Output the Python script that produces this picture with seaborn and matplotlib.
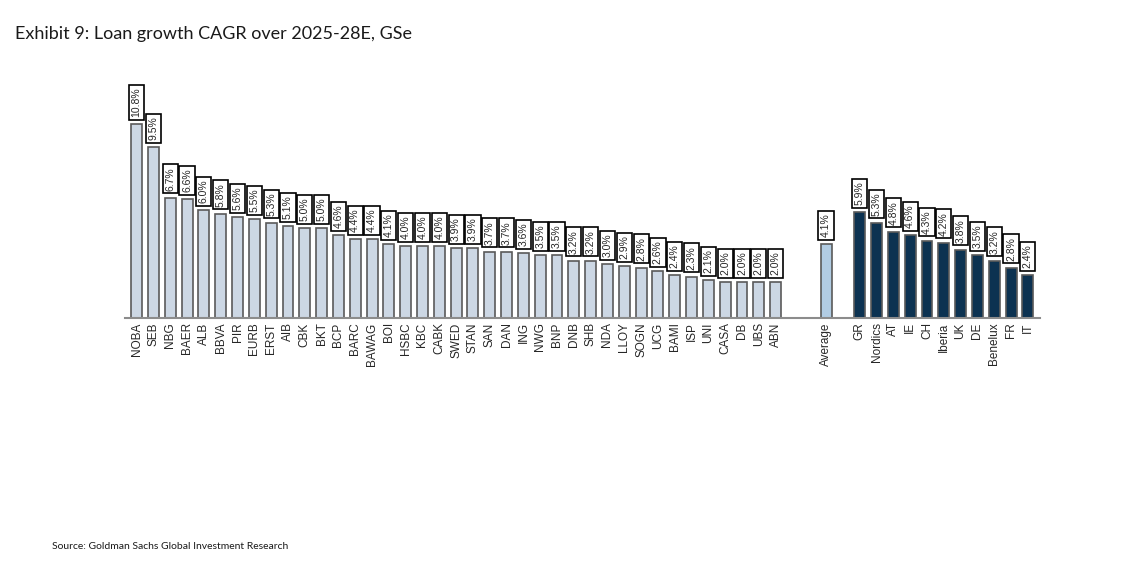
import pandas as pd
import matplotlib.pyplot as plt
import seaborn as sns

banks = ["NOBA", "SEB", "NBG", "BAER", "ALB", "BBVA", "PIR", "EURB", "ERST", "AIB",
         "CBK", "BKT", "BCP", "BARC", "BAWAG", "BOI", "HSBC", "KBC", "CABK", "SWED",
         "STAN", "SAN", "DAN", "ING", "NWG", "BNP", "DNB", "SHB", "NDA", "LLOY",
         "SOGN", "UCG", "BAMI", "ISP", "UNI", "CASA", "DB", "UBS", "ABN"]
bank_growth = [10.8, 9.5, 6.7, 6.6, 6.0, 5.8, 5.6, 5.5, 5.3, 5.1,
               5.0, 5.0, 4.6, 4.4, 4.4, 4.1, 4.0, 4.0, 4.0, 3.9,
               3.9, 3.7, 3.7, 3.6, 3.5, 3.5, 3.2, 3.2, 3.0, 2.9,
               2.8, 2.6, 2.4, 2.3, 2.1, 2.0, 2.0, 2.0, 2.0]
average_label = "Average"
average_growth = 4.1
countries = ["GR", "Nordics", "AT", "IE", "CH", "Iberia", "UK", "DE", "Benelux", "FR", "IT"]
country_growth = [5.9, 5.3, 4.8, 4.6, 4.3, 4.2, 3.8, 3.5, 3.2, 2.8, 2.4]


def build_frame():
    rows = [(b, v, "bank") for b, v in zip(banks, bank_growth)]
    rows += [(" ", None, "gap"), ("  ", None, "gap")]
    rows += [(average_label, average_growth, "avg")]
    rows += [("   ", None, "gap")]
    rows += [(c, v, "country") for c, v in zip(countries, country_growth)]
    return pd.DataFrame(rows, columns=["name", "growth", "group"])


def main():
    df = build_frame()
    sns.set_style("white")
    plt.rcParams['font.family'] = ['Liberation Sans', 'DejaVu Sans']

    fig = plt.figure(figsize=(11.35, 5.62), dpi=100)
    ax = fig.add_axes([0.110, 0.434, 0.806, 0.416])

    palette = {"bank": "#C8D6E8", "avg": "#A8CDEC", "country": "#00335C", "gap": "white"}
    sns.barplot(data=df, x="name", y="growth", hue="group", palette=palette,
                order=list(df["name"]), hue_order=["bank", "gap", "avg", "country"],
                dodge=False, width=0.65, edgecolor="#5a5a5a", linewidth=1.2,
                legend=False, ax=ax)

    for i, v in enumerate(df["growth"]):
        if pd.isna(v):
            continue
        ax.annotate(f"{v:.1f}%", xy=(i, v), xytext=(0, 5), textcoords="offset points",
                    rotation=90, ha="center", va="bottom", fontsize=7.5,
                    bbox=dict(boxstyle="square,pad=0.25", fc="white", ec="black", lw=1.2))

    ax.set_ylim(0, 13)
    ax.set_xlim(-0.7, len(df) - 0.3)
    ax.set_xlabel("")
    ax.set_ylabel("")
    ax.set_yticks([])
    ax.tick_params(axis="x", length=0, pad=3, labelsize=8.5, labelrotation=90)
    for side in ["top", "right", "left"]:
        ax.spines[side].set_visible(False)
    ax.spines["bottom"].set_color("#8c8c8c")
    ax.spines["bottom"].set_linewidth(1.5)

    fig.text(0.013, 0.94, "Exhibit 9: Loan growth CAGR over 2025-28E, GSe",
             fontsize=13, family=["Lato", "Liberation Sans"], color="#1a1a1a", va="center")
    fig.text(0.046, 0.027, "Source: Goldman Sachs Global Investment Research",
             fontsize=7.5, family=["Lato", "Liberation Sans"], color="#1a1a1a", va="center")

    fig.savefig("out.png", dpi=100)


if __name__ == '__main__':
    main()
